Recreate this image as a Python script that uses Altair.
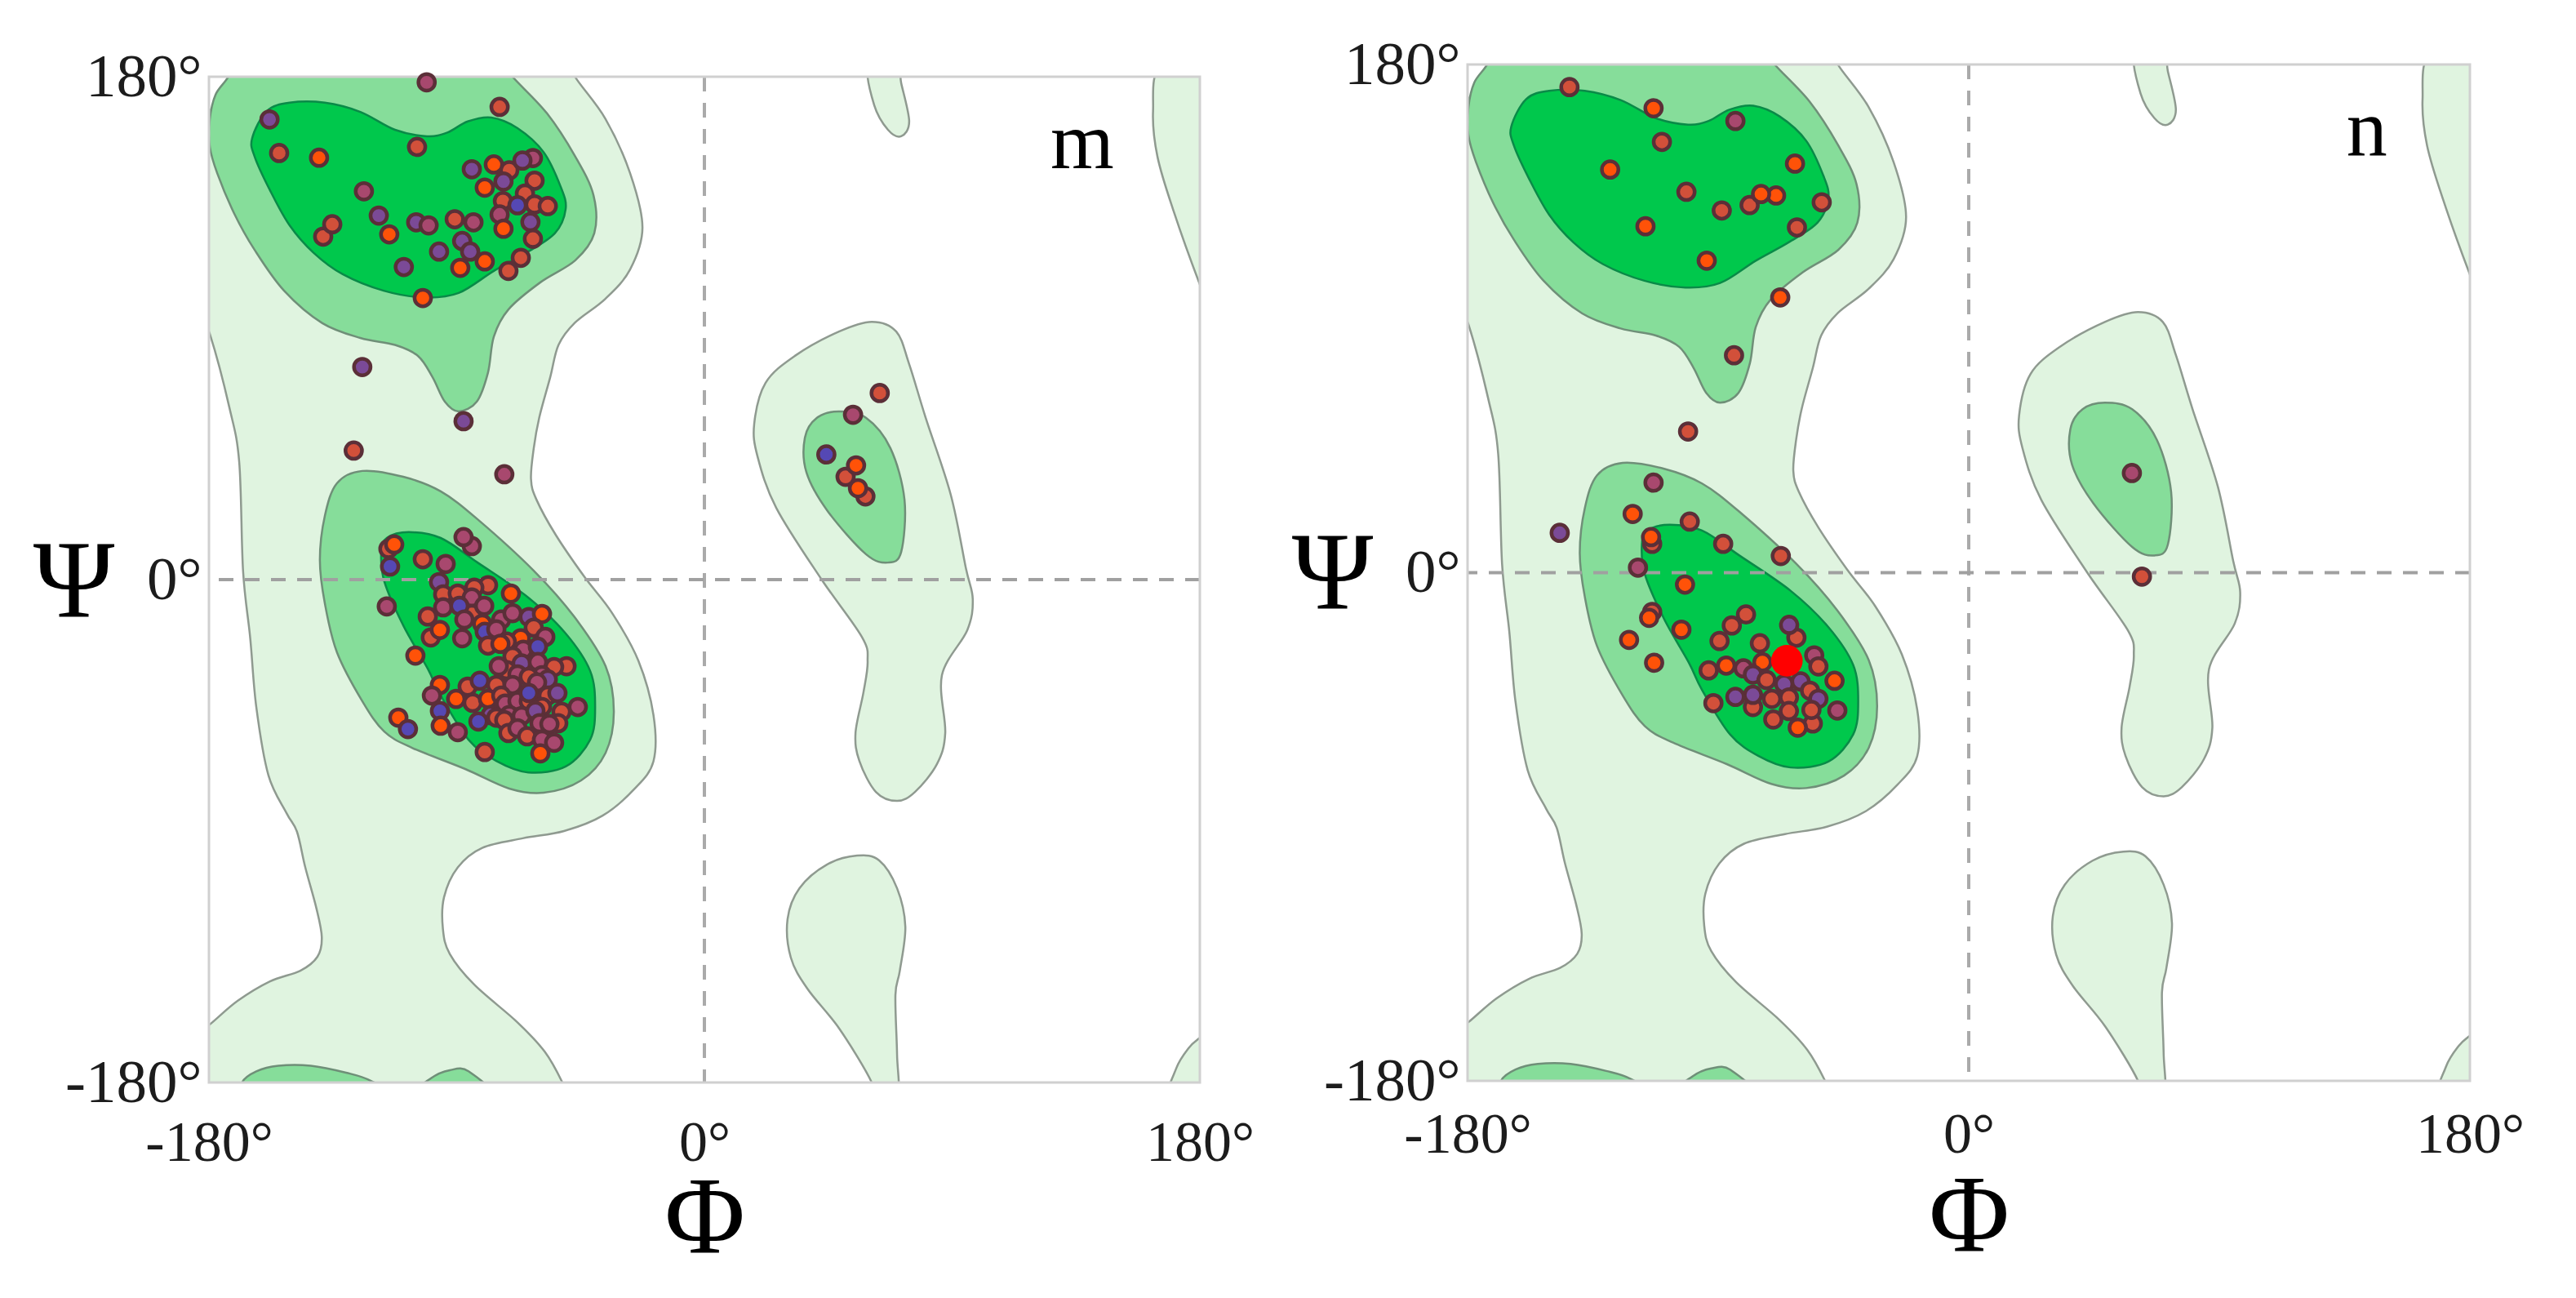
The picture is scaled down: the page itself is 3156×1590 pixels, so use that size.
import altair as alt
import pandas as pd

# contour rings, (phi, psi) in degrees
light_main = [(-46.9,184),(-47,180),(-36,165),(-27,145.5),(-22.5,126),(-27,111),(-36,100.5),(-47,92),(-53,84),(-56,72.5),(-60,58),(-62,47),(-63,36),(-61,28.6),(-54,16),(-43.6,1),(-33.5,-12),(-24,-29),(-18.5,-48.5),(-18.5,-65),(-25.5,-75),(-37,-84.5),(-51,-90),(-66,-92.6),(-80.7,-96),(-89.6,-103),(-94.6,-113.7),(-95,-125),(-92.5,-134),(-83.6,-145),(-68,-158.4),(-58,-169),(-51.6,-180),(-49.5,-186),(-186,-186),(-186,-164),(-179.4,-159),(-169.6,-150.8),(-157.8,-143.8),(-146.8,-140),(-140.6,-135),(-139,-128),(-141,-117.5),(-145,-103),(-148,-90.3),(-151.8,-83.6),(-158.4,-70),(-162.8,-45.6),(-165,-21),(-167.6,3),(-169,42),(-172.6,61.7),(-179.7,88),(-184,97),(-184,164),(-179.7,167.7),(-173,180),(-171,184)]
light_right = [(60.8,92.3),(69.7,88.8),(74.4,77.1),(80.4,57.9),(89.5,30.4),(95,4.1),(97.5,-7),(95.5,-18.1),(86.3,-34.2),(87.5,-54.9),(84.5,-66),(76.5,-76),(70,-79.2),(62.3,-76),(56.3,-64.9),(54.9,-54.9),(57.8,-40.3),(59.3,-29.2),(57.2,-20.5),(42.4,0.3),(26.1,25.7),(19.3,44.1),(18.1,55.8),(22.2,70.4),(32.9,80.1),(48.9,88.8)]
light_drop = [(55.5,-98.8),(63.5,-100.5),(70,-110.5),(73,-124.2),(71,-140),(69.4,-148.7),(70,-170),(70,-186),(60.8,-186),(60.8,-180),(49.2,-161),(37.4,-146.4),(31.4,-135.3),(30.2,-121.6),(34.5,-110.5),(44.5,-102)]
light_top = [(59.6,184),(61.7,169.8),(66.7,161),(71.5,158.7),(74.4,164),(71.5,177.7),(70,184)]
light_edge_top = [(166,184),(163,167.7),(164.6,151.4),(170.5,131.8),(179.7,106.4),(184,96.7),(187,130),(187,186)]
light_edge_bottom = [(169.3,-186),(171.4,-175),(175.9,-167.7),(180,-164),(186,-160),(187,-186)]
mid_top = [(-173,184),(-173,180),(-177.6,173.6),(-179.7,164.8),(-179.7,155),(-177,145.5),(-170.8,131),(-163.4,118),(-152.7,103.4),(-138.8,91.8),(-125,86.5),(-112.4,84),(-104,80),(-98.8,72.5),(-94.3,63.7),(-89.3,60.2),(-82.7,63.7),(-78.6,74.2),(-76.5,87),(-71.2,96.7),(-59.6,106.4),(-46.9,114.3),(-40,124),(-40.3,137.6),(-46.9,151.4),(-57.2,166.9),(-69.7,180),(-71.8,184)]
mid_low = [(-139.7,7),(-137.9,22.8),(-133.5,34.5),(-124.3,38.9),(-109.4,36.8),(-95.8,31.6),(-82.4,21.6),(-62,3.2),(-47.2,-13.4),(-35.9,-31),(-32.9,-47.3),(-35.9,-62),(-44.8,-71.9),(-58.4,-76.3),(-70.9,-74.8),(-86.9,-67.8),(-106.2,-60.2),(-116.3,-54.4),(-124.3,-43.5),(-133.5,-26),(-137.9,-8.5)]
mid_right = [(48.9,60.2),(40.9,57.9),(36.5,50.8),(37.1,38.3),(44.8,24.5),(58.7,9.1),(66.7,6.1),(71.5,9.9),(72.7,28.6),(67.6,47),(58.7,57.9)]
mid_bottom_a = [(-168,-186),(-168,-180),(-162.8,-176),(-154.8,-174),(-143,-174),(-130.2,-176.5),(-121.3,-179.4),(-113.3,-186)]
mid_bottom_b = [(-106.5,-186),(-99.3,-178.5),(-92.5,-175.6),(-85.7,-176),(-77,-186)]
dark_top = [(-164.3,158),(-159,167.7),(-150.7,170.7),(-137.9,170.7),(-125,167.4),(-112.4,161),(-100.8,158.7),(-93.4,160),(-86,164),(-77.4,165.4),(-67.9,161.6),(-58.4,153),(-52.2,140.6),(-50.4,132.7),(-54.3,124),(-64.7,117),(-76.5,110.5),(-89.3,102.6),(-101.7,101),(-116.5,103.4),(-131.4,109.3),(-142,117),(-150.7,126.8),(-158,139.7),(-163.4,151.4)]
dark_low = [(-117.4,10),(-115.4,14.9),(-107.4,17),(-95.8,14.9),(-82.4,6.1),(-64,-6.4),(-50.4,-19.3),(-41.5,-32.7),(-39.7,-45.6),(-41.5,-57.3),(-50.4,-66.9),(-64,-69),(-75.6,-64.9),(-85.7,-57.3),(-95.8,-41.5),(-100.5,-31.9),(-109.4,-16.4),(-116.3,-0.6)]

# residues: phi, psi, kind (O orange, R red, M mauve, P purple, B blue)
residues_m = [
(-100.9,178,"M"),(-74.4,169.2,"R"),(-158,164.7,"P"),(-154.5,152.7,"R"),(-140,151,"O"),(-104.4,154.9,"R"),(-84.5,146.9,"P"),(-70.9,146.5,"R"),(-62.3,150.9,"M"),(-66.1,150,"P"),(-76.5,148.6,"O"),(-73,142.5,"P"),(-79.8,140.3,"O"),(-61.7,142.8,"R"),(-65.2,138.2,"R"),(-73.2,135.5,"R"),(-61.7,134.3,"R"),(-56.9,133.7,"R"),(-67.9,134,"B"),(-74.4,130.7,"M"),(-63.2,128,"P"),(-73,125.6,"O"),(-62.3,122,"R"),(-66.7,115.2,"R"),(-71.2,110.5,"R"),(-88,121.2,"P"),(-85.1,117.4,"P"),(-79.8,113.9,"O"),(-88.7,111.6,"O"),(-96.4,117.4,"P"),(-109.2,111.9,"P"),(-102.3,100.8,"O"),(-83.9,127.9,"M"),(-90.7,129,"R"),(-104.7,127.9,"P"),(-100.2,126.8,"M"),(-114.5,123.6,"O"),(-118.3,130.3,"P"),(-123.7,139,"M"),(-138.5,122.8,"R"),(-135.2,127.2,"R"),(-124.3,76.1,"P"),(-87.5,56.7,"P"),(-127.4,46.2,"R"),(-72.7,37.7,"M"),
(-114.8,11,"R"),(-112.7,12.6,"O"),(-114.2,4.7,"B"),(-102.3,7.3,"R"),(-94,5.6,"M"),(-84.5,12,"M"),(-87.5,15.2,"M"),(-96.4,-0.9,"P"),(-78.6,-2,"R"),(-83.6,-2.9,"R"),(-70.3,-5,"O"),(-94.9,-5.3,"R"),(-89.6,-5,"R"),(-115.4,-9.6,"M"),(-94.9,-9.9,"M"),(-84.5,-6.4,"M"),(-84.5,-12.3,"R"),(-89,-9.4,"B"),(-100.5,-13.2,"R"),(-87.2,-14.3,"M"),(-80,-9.4,"M"),(-73.8,-14.3,"M"),(-80.7,-15.8,"O"),(-99.4,-20.7,"R"),(-96.1,-18,"O"),(-88,-21,"M"),(-79.8,-18.7,"B"),(-75.6,-17.8,"M"),(-69.7,-12,"M"),(-63.8,-13.4,"P"),(-59,-12.3,"O"),(-62,-17.2,"R"),(-57.8,-20.5,"M"),(-66.7,-21,"O"),(-71.8,-22.2,"R"),(-65.8,-25.1,"M"),(-78.6,-23.6,"R"),(-74.1,-23,"O"),(-60.5,-24,"B"),(-69.7,-27.5,"R"),(-66.4,-30,"P"),(-60.5,-29.5,"M"),(-50.1,-31,"R"),(-54.6,-31.3,"R"),(-71.8,-32.4,"R"),(-74.7,-31,"M"),(-67.9,-33.9,"M"),(-59,-34.2,"M"),(-63.8,-34.8,"R"),(-56.9,-35.7,"P"),(-60.8,-36.8,"M"),(-105,-27.2,"O"),(-86,-38.3,"R"),(-81.6,-36.2,"B"),(-96.1,-37.7,"O"),(-75.6,-37.7,"R"),(-69.7,-37.7,"M"),(-99,-41.5,"M"),(-90.2,-42.7,"O"),(-84.2,-44.1,"R"),(-78.6,-42.7,"O"),(-73.8,-41.5,"R"),(-72.4,-44.4,"M"),(-67.9,-43.5,"M"),(-63.8,-43.5,"R"),(-63.8,-40.6,"B"),(-56.9,-41.5,"R"),(-53.4,-40.6,"P"),(-59,-45.6,"R"),(-46,-45.6,"M"),(-96.1,-47,"B"),(-77.7,-48.5,"P"),(-82.1,-50.8,"B"),(-70.9,-48.5,"M"),(-75.6,-49.4,"R"),(-72.7,-50.3,"R"),(-66.4,-48.8,"M"),(-61.4,-47,"P"),(-51.9,-47.3,"R"),(-53.1,-51.4,"R"),(-59.9,-51.4,"M"),(-56.3,-51.7,"M"),(-111.2,-49.4,"O"),(-107.7,-53.5,"B"),(-95.8,-52.3,"O"),(-89.6,-54.6,"M"),(-71.2,-54.9,"R"),(-67.9,-53.2,"M"),(-64.4,-56.1,"R"),(-59,-57.3,"M"),(-54.6,-58.4,"M"),(-79.8,-61.7,"R"),(-59.6,-62.2,"O"),
(63.7,66.8,"R"),(54,59,"M"),(44.3,44.8,"B"),(58.5,29.8,"R"),(51.3,36.8,"R"),(55.1,40.9,"O"),(55.8,32.7,"O"),
]
residues_n = [
(-143.4,172,"R"),(-113.2,164.5,"O"),(-83.8,160,"M"),(-110.2,152.6,"R"),(-128.8,142.8,"O"),(-101.4,134.9,"R"),(-88.7,128.3,"R"),(-78.7,130.2,"R"),(-69.2,133.6,"O"),(-74.6,134.1,"O"),(-62.4,144.9,"O"),(-52.8,131.2,"R"),(-61.7,122.3,"R"),(-116.1,122.7,"O"),(-94.1,110.5,"O"),(-67.7,97.5,"O"),(-84.3,77,"R"),(-100.8,50,"R"),
(-146.9,14.1,"P"),(-113.2,31.9,"M"),(-120.7,20.8,"O"),(-113.7,10.2,"R"),(-114.1,12.6,"O"),(-100.2,18.1,"R"),(-88.2,10.2,"R"),(-67.5,5.9,"R"),(-118.8,1.8,"M"),(-101.9,-4.2,"O"),(-113.7,-13.9,"R"),(-114.8,-16,"O"),(-103.2,-20.2,"O"),(-122,-23.8,"O"),(-113,-31.9,"O"),(-80,-14.8,"R"),(-85.1,-18.7,"R"),(-89.5,-24.2,"R"),(-75,-25,"R"),(-61.9,-23,"R"),(-64.5,-18.5,"P"),(-93.4,-34.6,"R"),(-80.9,-33.9,"M"),(-87.1,-32.9,"O"),(-74.1,-31.7,"O"),(-55.5,-29.3,"M"),(-54,-33.2,"R"),(-48.2,-38.3,"O"),(-77.5,-36.1,"P"),(-72.6,-38,"R"),(-66.3,-39.4,"P"),(-60.4,-38.5,"P"),(-57,-41.8,"R"),(-54,-44.7,"P"),(-77.5,-47.6,"R"),(-77.5,-43.3,"P"),(-83.8,-44,"P"),(-91.7,-46.2,"R"),(-70.7,-44.7,"R"),(-64.6,-44.2,"R"),(-56,-53.4,"R"),(-70.2,-52,"R"),(-64.6,-49,"R"),(-56.5,-48.6,"R"),(-47.2,-48.8,"M"),(-61.4,-54.9,"O"),
(58.6,35.3,"M"),(62.2,-1.4,"R"),
]
highlight_n = [(-65.3,-31.2)]

kinds = ["O","R","M","P","B"]
kind_colors = ["#ff5208","#d2503a","#a8486e","#7b4a97","#5548b4"]
axis_ticks = [-180,0,180]
zero_lines = [0]
light_color, mid_color, dark_color = "#e0f4e0","#86dd9a","#00c84c"
label_font = "Liberation Serif"


def rings(*parts):
    return pd.DataFrame([{"phi":p,"psi":q,"ring":r,"i":i} for r,part in enumerate(parts) for i,(p,q) in enumerate(part)])


def panel(residues, tag, tag_pos, width, height, x_label_pad, y_title_y, title_pad, extra=None):
    xs = alt.Scale(domain=[-180,180], nice=False, zero=False)
    ys = alt.Scale(domain=[-180,180], nice=False, zero=False)
    xa = alt.Axis(values=axis_ticks, labelExpr="datum.value + '°'", grid=False, domain=False, ticks=False,
                  labelFont=label_font, labelFontSize=70, labelColor="#1c1c1c", labelPadding=x_label_pad,
                  labelOverlap=False, labelFlush=False, title="Φ", titleFont=label_font, titleFontSize=135,
                  titleFontWeight="normal", titleColor="#000000", titlePadding=title_pad)
    ya = alt.Axis(values=axis_ticks, labelExpr="datum.value + '°'", grid=False, domain=False, ticks=False,
                  labelFont=label_font, labelFontSize=75, labelColor="#1c1c1c", labelPadding=9,
                  labelOverlap=False, labelFlush=False, title="Ψ", titleFont=label_font, titleFontSize=135,
                  titleFontWeight="normal", titleColor="#000000", titleAngle=0, titleAlign="center",
                  titleBaseline="middle", titleX=-166, titleY=y_title_y)
    X = alt.X("phi:Q", scale=xs, axis=xa)
    Y = alt.Y("psi:Q", scale=ys, axis=ya)

    def tier(df, fill, stroke):
        return alt.Chart(df).mark_line(fill=fill, stroke=stroke, strokeWidth=2.5, clip=True,
                                       interpolate="cardinal-closed").encode(
            x=X, y=Y, detail="ring:N", order=alt.Order("i:Q"))

    light = tier(rings(light_main, light_right, light_drop, light_top, light_edge_top, light_edge_bottom), light_color, "#8f9a90")
    mid = tier(rings(mid_top, mid_low, mid_right, mid_bottom_a, mid_bottom_b), mid_color, "#6f8f78")
    dark = tier(rings(dark_top, dark_low), dark_color, "#0a8a48")
    zero_df = pd.DataFrame({"phi":zero_lines,"psi":zero_lines})
    vrule = alt.Chart(zero_df).mark_rule(color="#aaaaaa", strokeWidth=4, strokeDash=[18,14]).encode(x=X)
    hrule = alt.Chart(zero_df).mark_rule(color="#a0a0a0", strokeWidth=4, strokeDash=[18,14]).encode(y=Y)
    frame_df = pd.DataFrame({"phi":[-180],"phi2":[180],"psi":[-180],"psi2":[180]})
    frame = alt.Chart(frame_df).mark_rect(fillOpacity=0, stroke="#d0d0d0", strokeWidth=3).encode(
        x=X, x2="phi2:Q", y=Y, y2="psi2:Q")
    res = pd.DataFrame(residues, columns=["phi","psi","kind"])
    dots = alt.Chart(res).mark_circle(size=410, opacity=1, stroke="#5b2f38", strokeWidth=4.5).encode(
        x=X, y=Y, fill=alt.Fill("kind:N", scale=alt.Scale(domain=kinds, range=kind_colors), legend=None))
    tag_df = pd.DataFrame({"phi":[tag_pos[0]],"psi":[tag_pos[1]],"t":[tag]})
    label = alt.Chart(tag_df).mark_text(font=label_font, fontSize=100, color="#000000", baseline="middle").encode(x=X, y=Y, text="t:N")
    layers = [light, mid, dark, vrule, hrule, frame, dots, label]
    if extra:
        hi = pd.DataFrame(extra, columns=["phi","psi"])
        layers.insert(-1, alt.Chart(hi).mark_circle(size=1500, opacity=1, color="#ff0000").encode(x=X, y=Y))
    return alt.layer(*layers).properties(width=width, height=height)


left = panel(residues_m, "m", (137.3,156), 1214, 1232, 40, 620, -8, None)
right = panel(residues_n, "n", (143,156.5), 1228, 1245, 32, 625, 0, highlight_n)
spacer = alt.Chart(pd.DataFrame({"s":[0]})).mark_point(opacity=0).encode(
    x=alt.X("s:Q", axis=None), y=alt.Y("s:Q", axis=None)).properties(width=1214, height=1)
left_column = alt.vconcat(spacer, left, spacing=14, bounds="flush")
chart = alt.hconcat(left_column, right, spacing=1542, bounds="flush").properties(
    padding={"left":32,"top":34,"right":5,"bottom":5}, background="white"
).configure_view(stroke=None)

chart.save("out.html", embed_options={"renderer": "svg", "actions": False})
